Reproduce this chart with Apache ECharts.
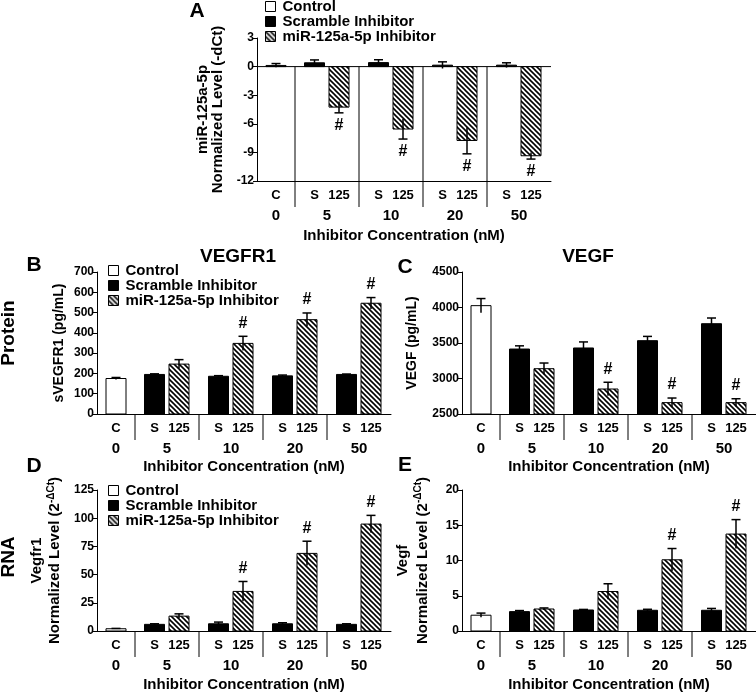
<!DOCTYPE html>
<html><head><meta charset="utf-8">
<script src="https://cdn.jsdelivr.net/npm/echarts@6/dist/echarts.min.js"></script>
<style>html,body{margin:0;padding:0;background:#fff}#c{width:756px;height:693px}</style>
</head><body><div id="c"></div>
<script>
// ---------- data ----------
const groups = ['0', '5', '10', '20', '50'];
const seriesNames = ['Control', 'Scramble Inhibitor', 'miR-125a-5p Inhibitor'];
const subLabels = ['C', 'S', '125'];
const xTitle = 'Inhibitor Concentration (nM)';

// Panel A : miR-125a-5p (-dCt)
const aTicks = [-12, -9, -6, -3, 0, 3];
const aControl = [0.12], aControlErr = [0.2];
const aScramble = [0.4, 0.42, 0.15, 0.15], aScrambleErr = [0.3, 0.3, 0.35, 0.25];
const aInhib = [-4.25, -6.55, -7.75, -9.35], aInhibErr = [0.6, 1.05, 1.4, 0.35];
const aSig = [1, 1, 1, 1];

// Panel B : sVEGFR1 (pg/mL)
const bTicks = [0, 100, 200, 300, 400, 500, 600, 700];
const bControl = [175], bControlErr = [5];
const bScramble = [195, 186, 188, 195], bScrambleErr = [3, 3, 4, 2];
const bInhib = [246, 348, 465, 546], bInhibErr = [22, 35, 33, 28];
const bSig = [0, 1, 1, 1];

// Panel C : VEGF (pg/mL)
const cTicks = [2500, 3000, 3500, 4000, 4500];
const cControl = [4026], cControlErr = [100];
const cScramble = [3415, 3430, 3533, 3772], cScrambleErr = [45, 85, 60, 80];
const cInhib = [3138, 2852, 2660, 2660], cInhibErr = [80, 95, 65, 55];
const cSig = [0, 1, 1, 1];

// Panel D : Vegfr1 RNA
const dTicks = [0, 25, 50, 75, 100, 125];
const dControl = [2], dControlErr = [0.3];
const dScramble = [5.9, 6.4, 6.4, 5.9], dScrambleErr = [0.5, 1.5, 0.9, 0.5];
const dInhib = [13.2, 35.1, 68.8, 94.8], dInhibErr = [2, 8.8, 10.8, 7.7];
const dSig = [0, 1, 1, 1];

// Panel E : Vegf RNA
const eTicks = [0, 5, 10, 15, 20];
const eControl = [2.24], eControlErr = [0.3];
const eScramble = [2.75, 2.98, 2.94, 2.94], eScrambleErr = [0.15, 0.08, 0.14, 0.26];
const eInhib = [3.12, 5.6, 10.1, 13.75], eInhibErr = [0.15, 1.1, 1.6, 2.05];
const eSig = [0, 0, 1, 1];

// ---------- layout ----------
const FONT = '"Liberation Sans", Arial, Helvetica, sans-serif';
const PLOT_W = 294, CTRL_W = 38, GROUP_W = 64, S_OFF = 19.5, I_OFF = 44, BAR_W = 20;

const panels = [
  {left: 257, top: 38, height: 143, ticks: aTicks, ctrl: aControl, ctrlErr: aControlErr, scr: aScramble, scrErr: aScrambleErr, inh: aInhib, inhErr: aInhibErr, sig: aSig,
   yName: 'miR-125a-5p\nNormalized Level (-dCt)', nameGap: 32, nameSize: 15, nameLH: 15, xGap: 47, legend: {left: 265, top: -1}},
  {left: 97, top: 272, height: 142, ticks: bTicks, ctrl: bControl, ctrlErr: bControlErr, scr: bScramble, scrErr: bScrambleErr, inh: bInhib, inhErr: bInhibErr, sig: bSig,
   yName: 'sVEGFR1 (pg/mL)', nameGap: 30, nameSize: 14, nameLH: 15, xGap: 45, legend: {left: 108, top: 263}},
  {left: 462, top: 272, height: 142, ticks: cTicks, ctrl: cControl, ctrlErr: cControlErr, scr: cScramble, scrErr: cScrambleErr, inh: cInhib, inhErr: cInhibErr, sig: cSig,
   yName: 'VEGF (pg/mL)', nameGap: 42, nameSize: 14, nameLH: 15, xGap: 45},
  {left: 97, top: 490, height: 142, ticks: dTicks, ctrl: dControl, ctrlErr: dControlErr, scr: dScramble, scrErr: dScrambleErr, inh: dInhib, inhErr: dInhibErr, sig: dSig,
   yName: 'Vegfr1\nNormalized Level (2{sup|-ΔCt})', nameGap: 33, nameSize: 15, nameLH: 18, xGap: 46, legend: {left: 108, top: 483}},
  {left: 462, top: 490, height: 142, ticks: eTicks, ctrl: eControl, ctrlErr: eControlErr, scr: eScramble, scrErr: eScrambleErr, inh: eInhib, inhErr: eInhibErr, sig: eSig,
   yName: 'Vegf\nNormalized Level (2{sup|-ΔCt})', nameGap: 29, nameSize: 15, nameLH: 20, xGap: 46}
];

function hatchCanvas() {
  const s = 5, c = document.createElement('canvas');
  c.width = s; c.height = s;
  const g = c.getContext('2d');
  g.fillStyle = '#fff'; g.fillRect(0, 0, s, s);
  g.strokeStyle = '#000'; g.lineWidth = 1.6;
  for (let k = -1; k <= 1; k++) { g.beginPath(); g.moveTo(k * s - 1, -1); g.lineTo(k * s + s + 1, s + 1); g.stroke(); }
  return c;
}
const HATCH = {image: hatchCanvas(), repeat: 'repeat'};
const FILLS = ['#ffffff', '#000000', HATCH];

function txt(x, y, text, size, va) {
  return {type: 'text', x: x, y: y, style: {text: text, fill: '#000', fontSize: size, fontWeight: 'bold', fontFamily: FONT, align: 'center', verticalAlign: va || 'middle'}};
}

function barRender(P, fill) {
  return function (params, api) {
    const x = api.value(0), v = api.value(1), err = api.value(2), sig = api.value(3);
    const base = P.base;
    const p0 = api.coord([x, base]), p1 = api.coord([x, v]);
    const w = api.size([BAR_W, 0])[0];
    const dir = v >= base ? 1 : -1;
    const pOut = api.coord([x, v + dir * err]), pIn = api.coord([x, v - dir * err]);
    const ch = [
      {type: 'rect', shape: {x: p0[0] - w / 2, y: Math.min(p0[1], p1[1]), width: w, height: Math.abs(p1[1] - p0[1])},
       style: {fill: fill, stroke: '#000', lineWidth: 1}},
      {type: 'line', shape: {x1: pIn[0], y1: pIn[1], x2: pOut[0], y2: pOut[1]}, style: {stroke: '#000', lineWidth: 1.5}},
      {type: 'line', shape: {x1: pOut[0] - 4.5, y1: pOut[1], x2: pOut[0] + 4.5, y2: pOut[1]}, style: {stroke: '#000', lineWidth: 1.5}}
    ];
    if (sig) ch.push(txt(pOut[0], pOut[1] - dir * 13, '#', 16));
    return {type: 'group', children: ch};
  };
}

function frameRender(P) {
  return function (params, api) {
    const i = api.value(0);
    const yMin = P.ticks[0];
    const bottom = api.coord([0, yMin])[1];
    const ch = [];
    if (i === 0) {
      const cx = api.coord([CTRL_W / 2, yMin])[0];
      ch.push(txt(cx, bottom + 14, subLabels[0], 13));
      ch.push(txt(cx, bottom + 35, groups[0], 15));
      if (P.base !== yMin) {
        const a = api.coord([0, P.base]), b = api.coord([PLOT_W, P.base]);
        ch.push({type: 'line', shape: {x1: a[0], y1: a[1], x2: b[0], y2: b[1]}, style: {stroke: '#000', lineWidth: 1}});
      }
    } else {
      const gx = CTRL_W + (i - 1) * GROUP_W;
      const s = api.coord([gx, P.base]);
      ch.push({type: 'line', shape: {x1: s[0], y1: s[1], x2: s[0], y2: bottom + 26}, style: {stroke: '#000', lineWidth: 1}});
      ch.push(txt(api.coord([gx + S_OFF, yMin])[0], bottom + 14, subLabels[1], 13));
      ch.push(txt(api.coord([gx + I_OFF, yMin])[0], bottom + 14, subLabels[2], 13));
      ch.push(txt(api.coord([gx + GROUP_W / 2, yMin])[0], bottom + 35, groups[i], 15));
    }
    return {type: 'group', children: ch};
  };
}

const grid = [], xAxis = [], yAxis = [], series = [], legend = [];
panels.forEach(function (P, pi) {
  const t = P.ticks;
  P.base = t[0] > 0 ? t[0] : 0;
  grid.push({left: P.left, top: P.top, width: PLOT_W, height: P.height});
  xAxis.push({gridIndex: pi, type: 'value', min: 0, max: PLOT_W,
    axisLine: {show: true, onZero: false, lineStyle: {color: '#000', width: 1}},
    axisTick: {show: false}, axisLabel: {show: false}, splitLine: {show: false},
    name: xTitle, nameLocation: 'middle', nameGap: P.xGap,
    nameTextStyle: {color: '#000', fontSize: 15, fontWeight: 'bold', fontFamily: FONT}});
  yAxis.push({gridIndex: pi, type: 'value', min: t[0], max: t[t.length - 1], interval: t[1] - t[0],
    axisLine: {show: true, lineStyle: {color: '#000', width: 1}},
    axisTick: {show: true, length: 4, lineStyle: {color: '#000', width: 1}},
    axisLabel: {color: '#000', fontSize: 12, fontWeight: 'bold', fontFamily: FONT, margin: 3,
      formatter: function (v) { return String(v); }},
    splitLine: {show: false},
    name: P.yName, nameLocation: 'middle', nameRotate: 90, nameGap: P.nameGap,
    nameTextStyle: {color: '#000', fontSize: P.nameSize, fontWeight: 'bold', fontFamily: FONT, lineHeight: P.nameLH, align: 'center',
      rich: {sup: {fontSize: 10, fontWeight: 'bold', fontFamily: FONT, verticalAlign: 'top', color: '#000', lineHeight: 10}}}});

  const sets = [
    P.ctrl.map(function (v, i) { return [CTRL_W / 2, v, P.ctrlErr[i], 0]; }),
    P.scr.map(function (v, i) { return [CTRL_W + i * GROUP_W + S_OFF, v, P.scrErr[i], 0]; }),
    P.inh.map(function (v, i) { return [CTRL_W + i * GROUP_W + I_OFF, v, P.inhErr[i], P.sig[i]]; })
  ];
  sets.forEach(function (d, k) {
    series.push({type: 'custom', name: seriesNames[k], xAxisIndex: pi, yAxisIndex: pi, data: d,
      encode: {x: 0, y: 1}, clip: false,
      itemStyle: {color: FILLS[k], borderColor: '#000', borderWidth: 1},
      renderItem: barRender(P, FILLS[k])});
  });
  series.push({type: 'custom', name: 'frame' + pi, xAxisIndex: pi, yAxisIndex: pi,
    data: groups.map(function (g, i) { return [i, t[0]]; }), encode: {x: 0, y: 1}, clip: false, silent: true,
    renderItem: frameRender(P)});
  if (P.legend) {
    legend.push({data: seriesNames, orient: 'vertical', left: P.legend.left, top: P.legend.top, padding: 0, itemGap: 0,
      itemWidth: 10, itemHeight: 10, icon: 'rect', selectedMode: false,
      itemStyle: {borderColor: '#000', borderWidth: 1},
      textStyle: {color: '#000', fontSize: 15, fontWeight: 'bold', fontFamily: FONT, lineHeight: 15, padding: [0, 0, 0, 2]}});
  }
});

function gtext(x, y, text, size, rot) {
  return {type: 'text', x: x, y: y, rotation: rot || 0,
    style: {text: text, fill: '#000', fontSize: size, fontWeight: 'bold', fontFamily: FONT, align: 'center', verticalAlign: 'middle'}};
}

const chart = echarts.init(document.getElementById('c'));
chart.setOption({
  animation: false,
  backgroundColor: '#fff',
  grid: grid, xAxis: xAxis, yAxis: yAxis, series: series, legend: legend,
  graphic: [
    gtext(197, 11, 'A', 21), gtext(34, 265, 'B', 21), gtext(405, 267, 'C', 21),
    gtext(34, 466, 'D', 21), gtext(405, 465, 'E', 21),
    gtext(238, 257, 'VEGFR1', 19), gtext(588, 257, 'VEGF', 19),
    gtext(9, 333, 'Protein', 19, Math.PI / 2), gtext(9, 557, 'RNA', 19, Math.PI / 2)
  ]
});
</script></body></html>
